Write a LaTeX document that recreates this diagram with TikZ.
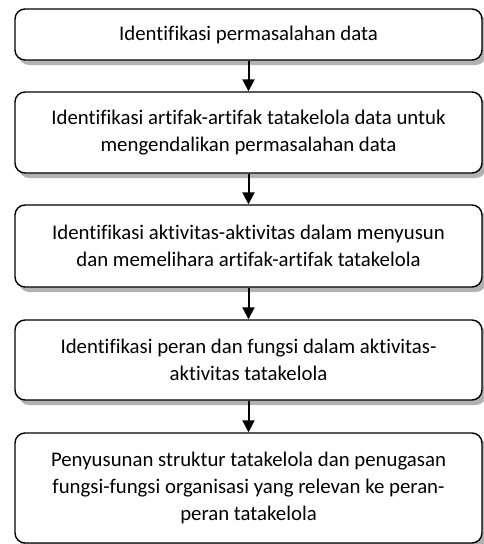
\documentclass[tikz,border=0pt]{standalone}
\usepackage{fontspec}
\setmainfont{Carlito}[Ligatures={NoCommon}]
\usetikzlibrary{arrows.meta,shadows}
\begin{document}
\begin{tikzpicture}[x=1pt,y=-1pt,
  stepbox/.style={draw=black, line width=1.4pt, rounded corners=10pt, fill=white,
    minimum width=467pt, align=center, inner sep=0pt,
    font=\fontsize{20.8pt}{27pt}\selectfont,
    drop shadow={shadow xshift=4pt, shadow yshift=-5pt, fill=black!30, opacity=1}},
  flow/.style={line width=2pt, -{Triangle[length=12pt,width=12pt]}}]
\useasboundingbox (0,0) rectangle (484,544);
\node[stepbox, minimum height=51pt] (b1) at (248.5,34.5) {Identifikasi permasalahan data};
\node[stepbox, minimum height=81pt] (b2) at (248.5,132.5) {Identifikasi artifak-artifak tatakelola data untuk\\mengendalikan permasalahan data};
\node[stepbox, minimum height=82pt] (b3) at (248.5,246) {Identifikasi aktivitas-aktivitas dalam menyusun\\dan memelihara artifak-artifak tatakelola};
\node[stepbox, minimum height=80pt] (b4) at (248.5,360) {Identifikasi peran dan fungsi dalam aktivitas-\\aktivitas tatakelola};
\node[stepbox, minimum height=110pt] (b5) at (248.5,488) {Penyusunan struktur tatakelola dan penugasan\\fungsi-fungsi organisasi yang relevan ke peran-\\peran tatakelola};
\draw[flow] (b1.south) -- (b2.north);
\draw[flow] (b2.south) -- (b3.north);
\draw[flow] (b3.south) -- (b4.north);
\draw[flow] (b4.south) -- (b5.north);
\end{tikzpicture}
\end{document}
